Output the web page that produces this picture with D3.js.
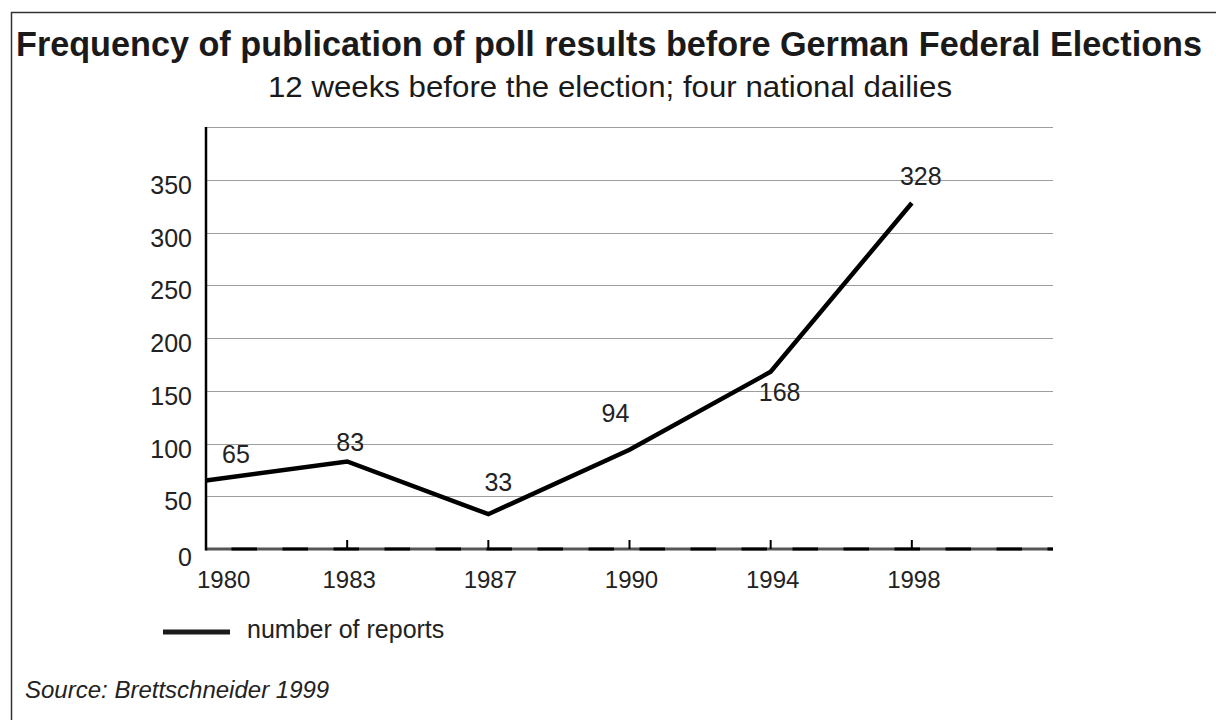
<!DOCTYPE html>
<html>
<head>
<meta charset="utf-8">
<script src="https://cdn.jsdelivr.net/npm/d3@7"></script>
<style>
  html, body { margin: 0; padding: 0; background: #fff; }
  svg { display: block; font-family: "Liberation Sans", Arial, Helvetica, sans-serif; }
</style>
</head>
<body>
<svg id="chart" width="1216" height="720"></svg>
<script>
// Election years and number of published poll reports
const years = ["1980", "1983", "1987", "1990", "1994", "1998"];
const reports = [65, 83, 33, 94, 168, 328];
const yTicks = [0, 50, 100, 150, 200, 250, 300, 350, 400];
const yTickLabels = ["0", "50", "100", "150", "200", "250", "300", "350", ""];
const seriesName = "number of reports";

const titleText = "Frequency of publication of poll results before German Federal Elections";
const subtitleText = "12 weeks before the election; four national dailies";
const sourceText = "Source: Brettschneider 1999";

const svg = d3.select("#chart");

// frame: top and left rule only
svg.append("path")
  .attr("d", "M11.5,1216 V12.5 H1216")
  .attr("fill", "none")
  .attr("stroke", "#333")
  .attr("stroke-width", 1.5);

// title, drawn slightly taller than wide
svg.append("text")
  .attr("transform", "translate(16,56) scale(1,1.1)")
  .attr("font-size", 32).attr("font-weight", "bold")
  .attr("fill", "#1a1a1a")
  .attr("textLength", 1186).attr("lengthAdjust", "spacingAndGlyphs")
  .text(titleText);

svg.append("text")
  .attr("x", 268).attr("y", 97)
  .attr("font-size", 30)
  .attr("fill", "#1a1a1a")
  .attr("textLength", 684).attr("lengthAdjust", "spacingAndGlyphs")
  .text(subtitleText);

// scales: one extra slot to the right of the last election
const x = d3.scaleLinear().domain([0, years.length]).range([206, 1053]);
const y = d3.scaleLinear().domain([0, 400]).range([549, 127]);

// horizontal grid
svg.append("g")
  .selectAll("line")
  .data(yTicks.filter(d => d > 0))
  .join("line")
  .attr("x1", x(0)).attr("x2", x(years.length))
  .attr("y1", d => Math.round(y(d)) + 0.5).attr("y2", d => Math.round(y(d)) + 0.5)
  .attr("stroke", "#9e9e9e").attr("stroke-width", 1.2);

// y tick labels
svg.append("g")
  .selectAll("text")
  .data(yTicks)
  .join("text")
  .attr("x", 192)
  .attr("y", d => y(d) + (d === 0 ? 17 : 14))
  .attr("text-anchor", "end")
  .attr("font-size", 25)
  .attr("fill", "#222")
  .text((d, i) => yTickLabels[i]);

// x axis: grey base with black dashes over it
svg.append("line")
  .attr("x1", x(0)).attr("x2", x(years.length))
  .attr("y1", y(0)).attr("y2", y(0))
  .attr("stroke", "#555").attr("stroke-width", 3);
svg.append("line")
  .attr("x1", x(0)).attr("x2", x(years.length))
  .attr("y1", y(0)).attr("y2", y(0))
  .attr("stroke", "#000").attr("stroke-width", 3)
  .attr("stroke-dasharray", "25.5,25.5")
  .attr("stroke-dashoffset", -25.5);

// x ticks
svg.append("g")
  .selectAll("line")
  .data(years)
  .join("line")
  .attr("x1", (d, i) => x(i)).attr("x2", (d, i) => x(i))
  .attr("y1", y(0) - 9).attr("y2", y(0))
  .attr("stroke", "#000").attr("stroke-width", 2);

// x tick labels (first one nudged clear of the y axis)
svg.append("g")
  .selectAll("text")
  .data(years)
  .join("text")
  .attr("x", (d, i) => i === 0 ? x(i) - 9 : x(i) + 2)
  .attr("y", 588)
  .attr("text-anchor", (d, i) => i === 0 ? "start" : "middle")
  .attr("font-size", 24)
  .attr("fill", "#222")
  .text(d => d);

// y axis
svg.append("line")
  .attr("x1", x(0)).attr("x2", x(0))
  .attr("y1", y(400)).attr("y2", y(0) + 1.5)
  .attr("stroke", "#000").attr("stroke-width", 2.5);

// series line
const line = d3.line()
  .x((d, i) => x(i))
  .y(d => y(d));
svg.append("path")
  .datum(reports)
  .attr("d", line)
  .attr("fill", "none")
  .attr("stroke", "#000")
  .attr("stroke-width", 4.5)
  .attr("stroke-linejoin", "miter");

// value labels around each point
const labelDx = [30, 3, 10, -14, 9, 9];
const labelDy = [-17, -10, -23, -28, 29, -18];
svg.append("g")
  .selectAll("text")
  .data(reports)
  .join("text")
  .attr("x", (d, i) => x(i) + labelDx[i])
  .attr("y", (d, i) => y(d) + labelDy[i])
  .attr("text-anchor", "middle")
  .attr("font-size", 25)
  .attr("fill", "#222")
  .text(d => d);

// legend
svg.append("line")
  .attr("x1", 163).attr("x2", 230)
  .attr("y1", 632).attr("y2", 632)
  .attr("stroke", "#1a1a1a").attr("stroke-width", 5);
svg.append("text")
  .attr("x", 247).attr("y", 638)
  .attr("font-size", 25)
  .attr("fill", "#222")
  .text(seriesName);

// source note
svg.append("text")
  .attr("x", 25).attr("y", 698)
  .attr("font-size", 24)
  .attr("font-style", "italic")
  .attr("fill", "#222")
  .text(sourceText);
</script>
</body>
</html>
